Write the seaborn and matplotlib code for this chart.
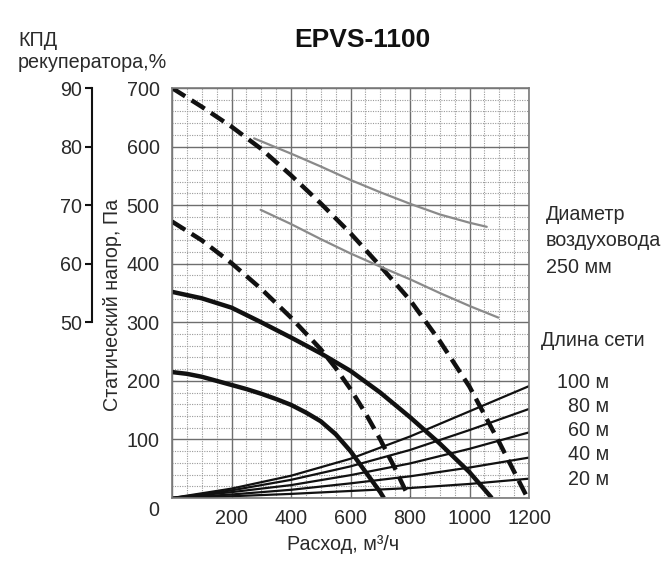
import matplotlib
matplotlib.use("Agg")
import matplotlib.pyplot as plt
import matplotlib.transforms as mtransforms
from matplotlib.ticker import MultipleLocator
import seaborn as sns

# ---------------- data ----------------
title = "EPVS-1100"

# thick solid fan curves (flow m3/h, static pressure Pa)
solid_hi_x = [0, 100, 200, 300, 400, 500, 600, 700, 800, 900, 1000, 1075]
solid_hi_y = [352, 341, 325, 300, 274, 247, 217, 180, 138, 93, 44, 0]
solid_lo_x = [0, 50, 100, 150, 200, 250, 300, 350, 400, 450, 500, 550, 600, 650, 700, 712]
solid_lo_y = [215, 212, 207, 200, 193, 186, 178, 169, 159, 146, 131, 109, 80, 45, 10, 0]

# thick dashed fan curves
dash_hi_x = [0, 100, 200, 300, 400, 500, 600, 700, 800, 900, 1000, 1100, 1195]
dash_hi_y = [700, 668, 634, 596, 551, 503, 452, 396, 338, 268, 190, 95, 0]
dash_lo_x = [0, 100, 200, 300, 400, 500, 550, 600, 650, 700, 750, 797]
dash_lo_y = [472, 440, 401, 357, 308, 254, 222, 186, 145, 100, 50, 0]

# network characteristics (duct length)
net_x = [0, 200, 400, 600, 800, 1000, 1200]
net_100 = [0, 16, 38, 67, 105, 148, 191]
net_80 = [0, 13, 31, 54, 82, 116, 152]
net_60 = [0, 10, 22, 39, 59, 84, 112]
net_40 = [0, 6, 14, 25, 37, 52, 69]
net_20 = [0, 3, 7, 12, 17, 24, 33]
net_labels = ["100 м", "80 м", "60 м", "40 м", "20 м"]

# recuperator efficiency (%), grey lines
eff_hi_x = [276, 400, 500, 600, 700, 802, 901, 1000, 1058]
eff_hi_y = [81.4, 78.8, 76.6, 74.3, 72.2, 70.2, 68.4, 67.0, 66.3]
eff_lo_x = [298, 399, 500, 598, 700, 802, 900, 1004, 1097]
eff_lo_y = [69.2, 66.8, 64.2, 61.8, 59.5, 57.3, 55.0, 52.7, 50.8]

x_ticks = [0, 200, 400, 600, 800, 1000, 1200]
x_tick_labels = ["", "200", "400", "600", "800", "1000", "1200"]
y_ticks = [0, 100, 200, 300, 400, 500, 600, 700]
eff_ticks = [50, 60, 70, 80, 90]

# ---------------- styling ----------------
sns.set_style("white")
plt.rcParams["font.family"] = ["Liberation Sans", "DejaVu Sans"]
FS = 14.2
TXT = "#2a2a2a"

W, H = 667, 565
fig = plt.figure(figsize=(W / 100, H / 100), dpi=100)
ax = fig.add_axes([172 / W, 1 - 498 / H, 357 / W, 410 / H])
ax.set_xlim(0, 1200)
ax.set_ylim(0, 700)

# grid
ax.xaxis.set_minor_locator(MultipleLocator(50))
ax.yaxis.set_minor_locator(MultipleLocator(20))
ax.set_xticks(x_ticks)
ax.set_xticklabels(x_tick_labels)
ax.set_yticks(y_ticks)
ax.grid(which="minor", color="#9a9a9a", linestyle=(0, (1, 1.2)), linewidth=0.8)
ax.grid(which="major", color="#6e6e6e", linestyle="-", linewidth=1.0)
ax.set_axisbelow(True)
ax.tick_params(which="both", length=0)
ax.tick_params(axis="x", pad=8, labelsize=FS, labelcolor=TXT)
ax.tick_params(axis="y", pad=9, labelsize=FS, labelcolor=TXT)
for s in ax.spines.values():
    s.set_color("#7a7a7a")
    s.set_linewidth(1.2)

# shift the y "0" label down a bit like in the reference
lbl0 = ax.get_yticklabels()[0]
lbl0.set_transform(lbl0.get_transform() + mtransforms.ScaledTranslation(0, -10 / 100, fig.dpi_scale_trans))

# network lines
for ys in [net_100, net_80, net_60, net_40, net_20]:
    sns.lineplot(x=net_x, y=ys, ax=ax, color="#111111", linewidth=1.6, sort=False)

# fan curves
for xs, ys in [(solid_hi_x, solid_hi_y), (solid_lo_x, solid_lo_y)]:
    sns.lineplot(x=xs, y=ys, ax=ax, color="#111111", linewidth=3.2, sort=False,
                 solid_capstyle="butt", solid_joinstyle="round")
for xs, ys in [(dash_hi_x, dash_hi_y), (dash_lo_x, dash_lo_y)]:
    l = sns.lineplot(x=xs, y=ys, ax=ax, color="#111111", linewidth=3.2, sort=False)
    line = l.get_lines()[-1]
    line.set_dashes((3.5, 1.7))
    line.set_dash_capstyle("butt")

ax.set_xlabel("")
ax.set_ylabel("")

# secondary efficiency axis
ax2 = ax.twinx()
ax2.set_ylim(20, 90)
ax2.yaxis.tick_left()
ax2.yaxis.set_label_position("left")
for side in ["right", "top", "bottom"]:
    ax2.spines[side].set_visible(False)
ax2.spines["left"].set_visible(True)
ax2.spines["left"].set_position(("outward", 80 * 0.72))
ax2.spines["left"].set_bounds(50, 90)
ax2.spines["left"].set_color("#111111")
ax2.spines["left"].set_linewidth(1.5)
ax2.set_yticks(eff_ticks)
ax2.tick_params(axis="y", direction="out", length=5, width=1.5, pad=2,
                labelsize=FS, labelcolor=TXT, color="#111111")
for xs, ys in [(eff_hi_x, eff_hi_y), (eff_lo_x, eff_lo_y)]:
    sns.lineplot(x=xs, y=ys, ax=ax2, color="#8a8a8a", linewidth=1.6, sort=False)
ax2.set_ylabel("")
ax2.set_xlabel("")
ax2.set_xlim(0, 1200)

# texts
fig.text(362 / W, 1 - 40 / H, title, ha="center", va="center", fontsize=19,
         fontweight="bold", color="#111111")
fig.text(18 / W, 1 - 41 / H, "КПД", ha="left", va="center", fontsize=FS, color=TXT)
fig.text(18 / W, 1 - 62 / H, "рекуператора,%", ha="left", va="center", fontsize=FS, color=TXT)
fig.text(113 / W, 1 - 305 / H, "Статический напор, Па", ha="center", va="center",
         rotation=90, fontsize=FS, color=TXT)
fig.text(343 / W, 1 - 544 / H, "Расход, м³/ч", ha="center", va="center", fontsize=FS, color=TXT)

fig.text(546 / W, 1 - 215 / H, "Диаметр", ha="left", va="center", fontsize=FS, color=TXT)
fig.text(546 / W, 1 - 241 / H, "воздуховода", ha="left", va="center", fontsize=FS, color=TXT)
fig.text(546 / W, 1 - 268 / H, "250 мм", ha="left", va="center", fontsize=FS, color=TXT)
fig.text(541 / W, 1 - 340 / H, "Длина сети", ha="left", va="center", fontsize=FS, color=TXT)
for i, t in enumerate(net_labels):
    fig.text(609 / W, 1 - (382 + 24.3 * i) / H, t, ha="right", va="center", fontsize=FS, color=TXT)

fig.savefig("out.png", dpi=100)
